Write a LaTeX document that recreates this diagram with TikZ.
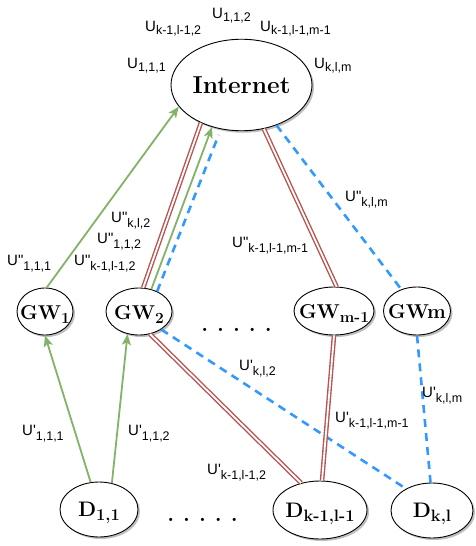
\documentclass[tikz,border=0pt]{standalone}
\usepackage{fontspec}
\newfontfamily\labfont{Liberation Sans}
\usetikzlibrary{shapes.geometric,arrows.meta,shadows}
\definecolor{grn}{HTML}{82B366}
\definecolor{redd}{HTML}{B85450}
\definecolor{blu}{HTML}{3399FF}
\newcommand\ls[2][5pt]{\raisebox{-#1}{\fontsize{12.5}{13}\selectfont #2}}
\newcommand\Ua[1]{U\ls[3.5pt]{#1}}
\newcommand\Ub[1]{U\textquotesingle\ls{#1}}
\newcommand\Uc[1]{U\textquotedbl\ls{#1}}
\newcommand\gs[1]{\raisebox{-4pt}{\fontsize{15.5}{16}\selectfont\bfseries #1}}
\newcommand\dsb[1]{\raisebox{-4pt}{\fontsize{16.5}{17}\selectfont\bfseries #1}}
\newcommand\dotrow{.\hspace{9pt}.\hspace{9pt}.\hspace{9pt}.\hspace{9pt}.}
\begin{document}
\begin{tikzpicture}[x=1pt,y=-1pt,
  ell/.style={ellipse, draw=black, fill=white, inner sep=0pt, line width=0.9pt,
    text depth=0pt,
    drop shadow={shadow xshift=2pt, shadow yshift=-2pt, opacity=0.25, fill=black}},
  gwn/.style={ell, text height=15pt, font=\fontsize{20}{20}\selectfont\bfseries},
  dn/.style={ell, text height=14.5pt, font=\fontsize{21}{21}\selectfont\bfseries},
  garr/.style={draw=grn, line width=1.8pt, -{Stealth[length=11pt,width=9pt,inset=2.5pt]}},
  dred/.style={draw=redd, line width=1.4pt, double=white, double distance=1.8pt},
  bdash/.style={draw=blu, line width=2.6pt, dash pattern=on 8pt off 6pt},
  lab/.style={font=\labfont\fontsize{15}{15}\selectfont, inner sep=0pt, anchor=base west},
  dots/.style={font=\fontsize{22}{22}\selectfont\bfseries, inner sep=0pt, anchor=base}
]
\fill[white] (0,0) rectangle (475,546);
\useasboundingbox (0,0) rectangle (475,546);

% nodes
\node[ell, minimum width=141pt, minimum height=91.5pt, text height=16pt,
      font=\fontsize{24.5}{24.5}\selectfont\bfseries] (inet) at (241.5,85) {\makebox[0pt]{Internet}};
\node[gwn, minimum width=56pt, minimum height=47pt] (gw1) at (45,311.5) {\makebox[0pt]{GW\gs{1}}};
\node[gwn, minimum width=66pt, minimum height=47pt] (gw2) at (139,311.5) {\makebox[0pt]{GW\gs{2}}};
\node[gwn, minimum width=80pt, minimum height=48pt] (gwm1) at (334,311) {\makebox[0pt]{GW\gs{m-1}}};
\node[gwn, minimum width=67pt, minimum height=48pt] (gwm) at (417,311) {\makebox[0pt]{GWm}};
\node[dn, minimum width=78pt, minimum height=55pt] (d11) at (99,509.5) {\makebox[0pt]{D\dsb{1,1}}};
\node[dn, minimum width=94pt, minimum height=58pt] (dk1) at (320,510) {\makebox[0pt]{D\dsb{k-1,l-1}}};
\node[dn, minimum width=82pt, minimum height=55pt] (dkl) at (432,510.5) {\makebox[0pt]{D\dsb{k,l}}};

\node[dots] (dotsa) at (236.5,331) {\dotrow};
\node[dots] (dotsb) at (202.5,521) {\dotrow};

% connectors
\draw[garr] (gw1.86) -- (inet.199);
\draw[dred] (gw2.80) -- (inet.223);
\draw[garr] (gw2.61) -- (inet.235);
\draw[bdash, shorten >=6pt] (gw2.48) -- (inet.245);
\draw[dred] (inet.297) -- (gwm1.84);
\draw[bdash] (inet.311) -- (gwm.126);
\draw[garr] (d11.107) -- (gw1.270);
\draw[garr] (d11.64) -- (gw2.243);
\draw[dred] (gw2.296) -- (dk1.125);
\draw[bdash] (gw2.321) -- (dkl.140);
\draw[dred] (gwm1.270) -- (dk1.86);
\draw[bdash] (gwm.270) -- (dkl.93);

% labels
\node[lab] (l1) at (212,18) {\Ua{1,1,2}};
\node[lab] (l2) at (145,31) {\Ua{k-1,l-1,2}};
\node[lab] (l3) at (260,31) {\Ua{k-1,l-1,m-1}};
\node[lab] (l4) at (127,68) {\Ua{1,1,1}};
\node[lab] (l5) at (314,68) {\Ua{k,l,m}};
\node[lab] (l6) at (345,201) {\Uc{k,l,m}};
\node[lab] (l7) at (111,222) {\Uc{k,l,2}};
\node[lab] (l8) at (97,243) {\Uc{1,1,2}};
\node[lab] (l9) at (7,265) {\Uc{1,1,1}};
\node[lab] (l10) at (74,265) {\Uc{k-1,l-1,2}};
\node[lab] (l11) at (232,247) {\Uc{k-1,l-1,m-1}};
\node[lab] (l12) at (239,370) {\Ub{k,l,2}};
\node[lab] (l13) at (422,397) {\Ub{k,l,m}};
\node[lab] (l14) at (335,422) {\Ub{k-1,l-1,m-1}};
\node[lab] (l15) at (22,435) {\Ub{1,1,1}};
\node[lab] (l16) at (128,435) {\Ub{1,1,2}};
\node[lab] (l17) at (207,474) {\Ub{k-1,l-1,2}};
\end{tikzpicture}
\end{document}
